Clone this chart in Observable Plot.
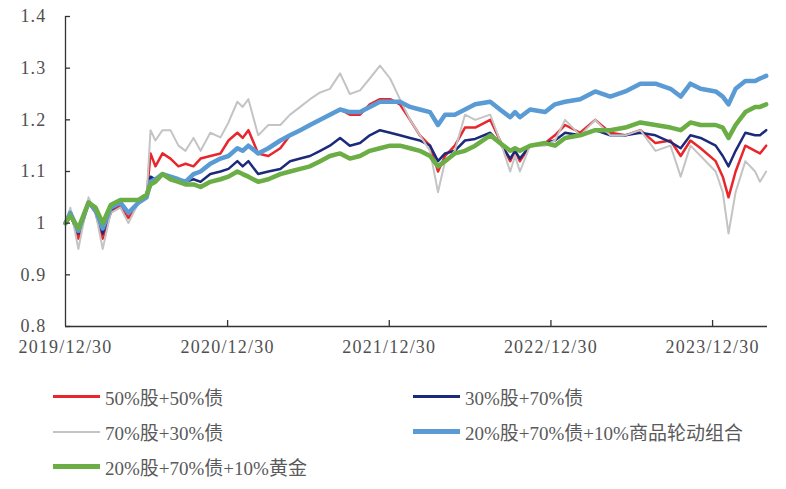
<!DOCTYPE html>
<html><head><meta charset="utf-8">
<script src="https://cdn.jsdelivr.net/npm/d3@7"></script>
<script src="https://cdn.jsdelivr.net/npm/@observablehq/plot@0.6"></script>
<style>
body{margin:0;background:#fff;width:786px;height:489px;overflow:hidden;font-family:"Liberation Serif","Noto Sans CJK SC",serif;}
#legend{display:grid;grid-template-columns:360px 380px;padding-left:53px;margin-top:14px;}
.item{display:flex;align-items:center;height:35px;font-size:19px;color:#5a5a5a;white-space:nowrap}
.sw{width:47px;margin-right:5px}
</style></head><body><div id="chart"></div><div id="legend"></div>
<script>
const dates = ["2019-12-30","2020-01-10","2020-01-28","2020-02-20","2020-03-07","2020-03-23","2020-04-10","2020-05-02","2020-05-20","2020-06-12",
"2020-06-30","2020-07-09","2020-07-20","2020-08-05","2020-08-23","2020-09-10","2020-09-26","2020-10-14","2020-10-30","2020-11-21",
"2020-12-14","2021-01-01","2021-01-21","2021-02-02","2021-02-15","2021-03-09","2021-04-01","2021-04-28","2021-05-20","2021-06-12",
"2021-07-04","2021-07-27","2021-08-18","2021-09-10","2021-10-02","2021-10-25","2021-11-16","2021-12-09","2022-01-01","2022-01-23",
"2022-02-15","2022-03-09","2022-04-01","2022-04-19","2022-05-05","2022-05-27","2022-06-19","2022-07-12","2022-08-15","2022-09-06",
"2022-09-29","2022-10-10","2022-10-21","2022-11-13","2022-12-17","2023-01-08","2023-01-31","2023-03-06","2023-04-09","2023-05-13",
"2023-06-16","2023-07-20","2023-08-23","2023-09-26","2023-10-19","2023-11-10","2023-12-03","2024-01-06","2024-01-22","2024-02-04",
"2024-02-20","2024-03-13","2024-04-04","2024-04-15","2024-04-29"];

const s50_50 = [1.00,1.02,0.97,1.04,1.02,0.97,1.02,1.035,1.01,1.04,
1.05,1.135,1.11,1.135,1.125,1.11,1.115,1.11,1.125,1.13,
1.135,1.16,1.175,1.165,1.18,1.135,1.13,1.145,1.17,1.18,
1.19,1.20,1.21,1.22,1.21,1.21,1.23,1.24,1.24,1.23,
1.20,1.17,1.15,1.10,1.13,1.15,1.185,1.185,1.20,1.16,
1.12,1.14,1.12,1.15,1.155,1.17,1.19,1.175,1.20,1.175,
1.17,1.18,1.155,1.16,1.13,1.16,1.145,1.12,1.09,1.05,
1.10,1.15,1.14,1.135,1.15];

const s30_70 = [1.00,1.015,0.98,1.04,1.025,0.98,1.025,1.04,1.02,1.04,
1.05,1.09,1.085,1.095,1.09,1.085,1.08,1.085,1.08,1.095,
1.10,1.105,1.12,1.11,1.12,1.095,1.10,1.105,1.12,1.125,
1.13,1.14,1.15,1.165,1.15,1.155,1.17,1.18,1.175,1.17,
1.165,1.16,1.15,1.12,1.135,1.14,1.16,1.163,1.175,1.155,
1.125,1.14,1.125,1.15,1.155,1.16,1.175,1.17,1.18,1.17,
1.17,1.175,1.17,1.157,1.145,1.17,1.165,1.15,1.13,1.11,
1.14,1.175,1.17,1.17,1.18];

const s70_30 = [1.00,1.03,0.95,1.05,1.02,0.95,1.02,1.03,1.00,1.04,
1.05,1.18,1.16,1.18,1.18,1.15,1.14,1.165,1.14,1.175,
1.166,1.195,1.235,1.225,1.24,1.17,1.19,1.19,1.21,1.225,
1.24,1.253,1.26,1.29,1.25,1.257,1.28,1.305,1.28,1.24,
1.20,1.17,1.14,1.06,1.12,1.14,1.21,1.20,1.21,1.16,
1.10,1.13,1.10,1.15,1.15,1.16,1.20,1.17,1.20,1.17,
1.17,1.18,1.14,1.15,1.09,1.15,1.13,1.10,1.06,0.98,
1.06,1.12,1.10,1.08,1.10];

const sCommodity = [1.00,1.02,0.985,1.04,1.025,0.99,1.03,1.04,1.02,1.04,
1.05,1.08,1.085,1.095,1.09,1.085,1.08,1.095,1.10,1.115,
1.125,1.13,1.145,1.14,1.15,1.135,1.145,1.16,1.17,1.18,
1.19,1.20,1.21,1.22,1.215,1.215,1.225,1.235,1.235,1.235,
1.225,1.22,1.215,1.19,1.21,1.21,1.22,1.23,1.235,1.22,
1.205,1.215,1.205,1.22,1.215,1.23,1.235,1.24,1.255,1.245,
1.255,1.27,1.27,1.26,1.245,1.27,1.26,1.255,1.245,1.23,
1.26,1.275,1.275,1.28,1.285];

const sGold = [1.00,1.015,0.99,1.04,1.03,1.00,1.035,1.045,1.045,1.045,
1.055,1.075,1.08,1.095,1.085,1.08,1.075,1.075,1.07,1.08,
1.085,1.09,1.10,1.095,1.09,1.08,1.085,1.095,1.10,1.105,
1.11,1.12,1.13,1.135,1.125,1.13,1.14,1.145,1.15,1.15,
1.145,1.14,1.13,1.11,1.12,1.135,1.14,1.15,1.17,1.155,
1.14,1.145,1.14,1.15,1.155,1.15,1.165,1.17,1.18,1.18,
1.185,1.195,1.19,1.185,1.18,1.195,1.19,1.19,1.185,1.165,
1.19,1.215,1.225,1.225,1.23];

const seriesNames = ["50%股+50%债","30%股+70%债","70%股+30%债","20%股+70%债+10%商品轮动组合","20%股+70%债+10%黄金"];
const seriesValues = [s50_50, s30_70, s70_30, sCommodity, sGold];
const seriesColors = ["#e8262b","#1c2a7c","#c4c4c4","#5b9bd5","#6aae45"];
const seriesWidths = [2.5, 2.5, 2, 4.5, 4.5];
const legendWidths = [3, 3, 2, 5, 5];

const xTickLabels = ["2019/12/30","2020/12/30","2021/12/30","2022/12/30","2023/12/30"];
const yTicks = [0.8,0.9,1.0,1.1,1.2,1.3,1.4];

const parse = d3.utcParse("%Y-%m-%d");
const parseTick = d3.utcParse("%Y/%m/%d");
const xTicks = xTickLabels.map(parseTick);
const domainStart = parse("2019-12-30");
const domainEnd = parse("2024-05-02");

const lineMarks = seriesNames.map((name, i) => {
  const rows = dates.map((d, j) => ({date: parse(d), value: seriesValues[i][j]}));
  return Plot.line(rows, {x: "date", y: "value", stroke: seriesColors[i], strokeWidth: seriesWidths[i], strokeLinejoin: "round"});
});

const W = 786, H = 365, mL = 65, mR = 19, mT = 16, mB = 39;
const chart = Plot.plot({
  width: W, height: H,
  marginLeft: mL, marginRight: mR, marginTop: mT, marginBottom: mB,
  style: {fontFamily: '"Liberation Serif", serif', fontSize: "18px", color: "#505050", background: "#fff", letterSpacing: "1.2px"},
  x: {type: "utc", domain: [domainStart, domainEnd]},
  y: {domain: [0.8, 1.4]},
  marks: [
    ...lineMarks,
    Plot.ruleY([0.8], {stroke: "#333", strokeWidth: 1.3}),
    Plot.ruleX([domainStart], {stroke: "#333", strokeWidth: 1.3}),
    Plot.tickY(yTicks, {y: d => d, stroke: "#333", strokeWidth: 1.3, insetRight: W - mL - mR - 5}),
    Plot.tickX(xTicks.slice(1), {x: d => d, stroke: "#333", strokeWidth: 1.3, insetTop: H - mT - mB - 6}),
    Plot.axisY(yTicks, {tickSize: 0, tickPadding: 19, tickFormat: d => String(+d.toFixed(1)), label: null}),
    Plot.axisX(xTicks, {tickSize: 0, tickPadding: 14, tickFormat: d3.utcFormat("%Y/%m/%d"), label: null})
  ]
});
document.getElementById("chart").appendChild(chart);

const legend = document.getElementById("legend");
seriesNames.forEach((name, i) => {
  const item = document.createElement("div");
  item.className = "item";
  const sw = document.createElement("div");
  sw.className = "sw";
  sw.style.height = legendWidths[i] + "px";
  sw.style.background = seriesColors[i];
  const t = document.createElement("span");
  t.textContent = name;
  item.appendChild(sw); item.appendChild(t);
  legend.appendChild(item);
});
</script></body></html>
